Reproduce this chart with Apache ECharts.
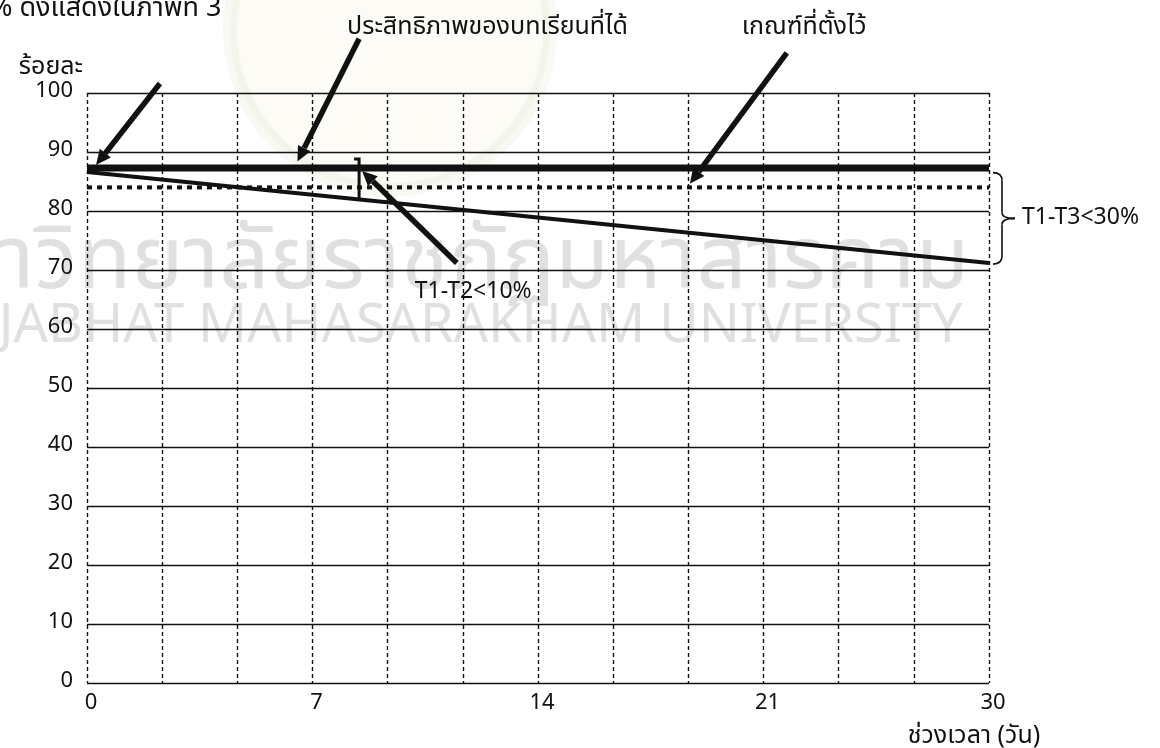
<!DOCTYPE html>
<html>
<head>
<meta charset="utf-8">
<script src="https://cdn.jsdelivr.net/npm/echarts@6/dist/echarts.min.js"></script>
<style>
  html, body { margin: 0; padding: 0; background: #fff; }
  #chart { width: 1160px; height: 748px; }
</style>
</head>
<body>
<div id="chart"></div>
<script>
// x축: 13개 격자열, 3칸마다 라벨
const xTickLabels = ['0', '', '', '7', '', '', '14', '', '', '21', '', '', '30'];
const lineX = [0, 12];
const efficiencyVals = [87.3, 87.3];   // ประสิทธิภาพของบทเรียนที่ได้
const criterionVals = [84, 84];        // เกณฑ์ที่ตั้งไว้
const declineVals = [86.6, 71.2];      // ค่าที่ลดลงตามช่วงเวลา

const FONT = '"Noto Sans Thai", "Liberation Sans", "DejaVu Sans", sans-serif';
const ink = '#111';

const toPairs = (xs, ys) => xs.map((x, i) => [x, ys[i]]);

let chartDiv = document.getElementById('chart');
let myChart = echarts.init(chartDiv, null, { renderer: 'canvas' });

let option = {
  animation: false,
  backgroundColor: '#fff',
  textStyle: { fontFamily: FONT },
  grid: { left: 87, right: 171, top: 93, bottom: 65, outerBoundsMode: 'none' },
  xAxis: {
    type: 'value', min: 0, max: 12, interval: 1,
    name: 'ช่วงเวลา (วัน)',
    nameLocation: 'end', nameGap: 0,
    nameTextStyle: { fontSize: 25, color: ink, align: 'center', verticalAlign: 'top', padding: [42, 30, 0, 0] },
    axisLine: { show: false },
    axisTick: { show: false },
    axisLabel: { formatter: v => xTickLabels[v] || '', fontSize: 22, color: ink, margin: 11, padding: [0, 0, 0, 8] },
    splitLine: { show: true, lineStyle: { color: ink, width: 1.4, type: [4, 3] } }
  },
  yAxis: {
    type: 'value', min: 0, max: 100, interval: 10,
    name: 'ร้อยละ',
    nameLocation: 'end', nameGap: 12,
    nameTextStyle: { fontSize: 25, color: ink, align: 'right', padding: [0, 4, 0, 0] },
    axisLine: { show: false },
    axisTick: { show: false },
    axisLabel: { fontSize: 22, color: ink, margin: 14 },
    splitLine: { show: true, lineStyle: { color: ink, width: 1.3 } }
  },
  series: [
    {
      name: 'ประสิทธิภาพของบทเรียนที่ได้',
      type: 'line', symbol: 'none', z: 5,
      lineStyle: { color: ink, width: 7 },
      data: toPairs(lineX, efficiencyVals)
    },
    {
      name: 'เกณฑ์ที่ตั้งไว้',
      type: 'line', symbol: 'none', z: 5,
      lineStyle: { color: ink, width: 4, type: [5, 5] },
      data: toPairs(lineX, criterionVals)
    },
    {
      name: 'ลดลง',
      type: 'line', symbol: 'none', z: 5,
      lineStyle: { color: ink, width: 4 },
      data: toPairs(lineX, declineVals)
    }
  ]
};

if (option && typeof option === 'object') {
  myChart.setOption(option);
}

// 주석 (화살표, 괄호, 글자) - 축 단위로 지정
const px = (x, y) => myChart.convertToPixel({ gridIndex: 0 }, [x, y]);

const arrowSpecs = [
  [0.97, 101.6, 0.12, 87.8],
  [3.62, 109.2, 2.8, 88.4],
  [9.31, 106.8, 8.02, 84.6],
  [4.92, 71.2, 3.66, 86.8]
];

function arrowGraphic(a) {
  const p1 = px(a[0], a[1]), p2 = px(a[2], a[3]);
  const ang = Math.atan2(p2[1] - p1[1], p2[0] - p1[0]);
  const len = 15, half = 7;
  const bx = p2[0] - len * Math.cos(ang), by = p2[1] - len * Math.sin(ang);
  return [
    { type: 'line', z: 20, shape: { x1: p1[0], y1: p1[1], x2: bx, y2: by }, style: { stroke: ink, lineWidth: 5.5 } },
    { type: 'polygon', z: 20, shape: { points: [p2, [bx + half * Math.sin(ang), by - half * Math.cos(ang)], [bx - half * Math.sin(ang), by + half * Math.cos(ang)]] }, style: { fill: ink } }
  ];
}

let graphics = [];

// 배경 엠블럼 (아주 흐릿하게)
graphics.push({ type: 'circle', z: -20, shape: { cx: 390, cy: 30, r: 160 }, style: { fill: 'rgba(240,238,212,0.22)', stroke: 'rgba(205,215,175,0.16)', lineWidth: 14 } });

// 워터마크
graphics.push({ type: 'text', z: -10, x: -107, y: 270, style: { text: 'มหาวิทยาลัยราชภัฏมหาสารคาม', font: '88px ' + FONT, fill: '#e0e0e0', verticalAlign: 'middle' } });
graphics.push({ type: 'text', z: -10, x: -72, y: 331, style: { text: 'RAJABHAT MAHASARAKHAM UNIVERSITY', font: '54px ' + FONT, fill: '#e0e0e0', verticalAlign: 'middle' } });

// 제목 (잘린 본문)
graphics.push({ type: 'text', x: -10, y: 11, style: { text: '% ดังแสดงในภาพที่ 3', font: '27px ' + FONT, fill: ink, verticalAlign: 'middle' } });

arrowSpecs.forEach(a => { graphics = graphics.concat(arrowGraphic(a)); });

// T1-T2 세로 괄호
const b1 = px(3.62, 88.8), b2 = px(3.62, 81.8);
graphics.push({ type: 'polyline', z: 20, shape: { points: [[b1[0] - 5, b1[1]], [b1[0], b1[1]], [b2[0], b2[1]]] }, style: { stroke: ink, lineWidth: 3 } });

// T1-T3 중괄호
const t = px(12, 86.5), bt = px(12, 71.0);
const x0 = t[0] + 4, y1 = t[1], y2 = bt[1], ym = (y1 + y2) / 2, xs = x0 + 9;
const braceStyle = { stroke: ink, lineWidth: 1.6, fill: null };
graphics.push({ type: 'bezierCurve', z: 20, shape: { x1: x0, y1: y1, cpx1: xs, cpy1: y1, x2: xs, y2: y1 + 8 }, style: braceStyle });
graphics.push({ type: 'line', z: 20, shape: { x1: xs, y1: y1 + 8, x2: xs, y2: ym - 6 }, style: braceStyle });
graphics.push({ type: 'bezierCurve', z: 20, shape: { x1: xs, y1: ym - 6, cpx1: xs, cpy1: ym, x2: x0 + 22, y2: ym }, style: braceStyle });
graphics.push({ type: 'bezierCurve', z: 20, shape: { x1: x0 + 22, y1: ym, cpx1: xs, cpy1: ym, x2: xs, y2: ym + 6 }, style: braceStyle });
graphics.push({ type: 'line', z: 20, shape: { x1: xs, y1: ym + 6, x2: xs, y2: y2 - 8 }, style: braceStyle });
graphics.push({ type: 'bezierCurve', z: 20, shape: { x1: xs, y1: y2 - 8, cpx1: xs, cpy1: y2, x2: x0, y2: y2 }, style: braceStyle });

const labelSpecs = [
  ['ประสิทธิภาพของบทเรียนที่ได้', 3.46, 110.9, 25],
  ['เกณฑ์ที่ตั้งไว้', 8.71, 110.9, 25],
  ['T1-T2<10%', 4.36, 66.1, 23],
  ['T1-T3<30%', 12.44, 78.6, 23]
];
labelSpecs.forEach(l => {
  const p = px(l[1], l[2]);
  graphics.push({ type: 'text', z: 20, x: p[0], y: p[1], style: { text: l[0], font: l[3] + 'px ' + FONT, fill: ink, align: 'left', verticalAlign: 'middle' } });
});

myChart.setOption({ graphic: graphics });
</script>
</body>
</html>
